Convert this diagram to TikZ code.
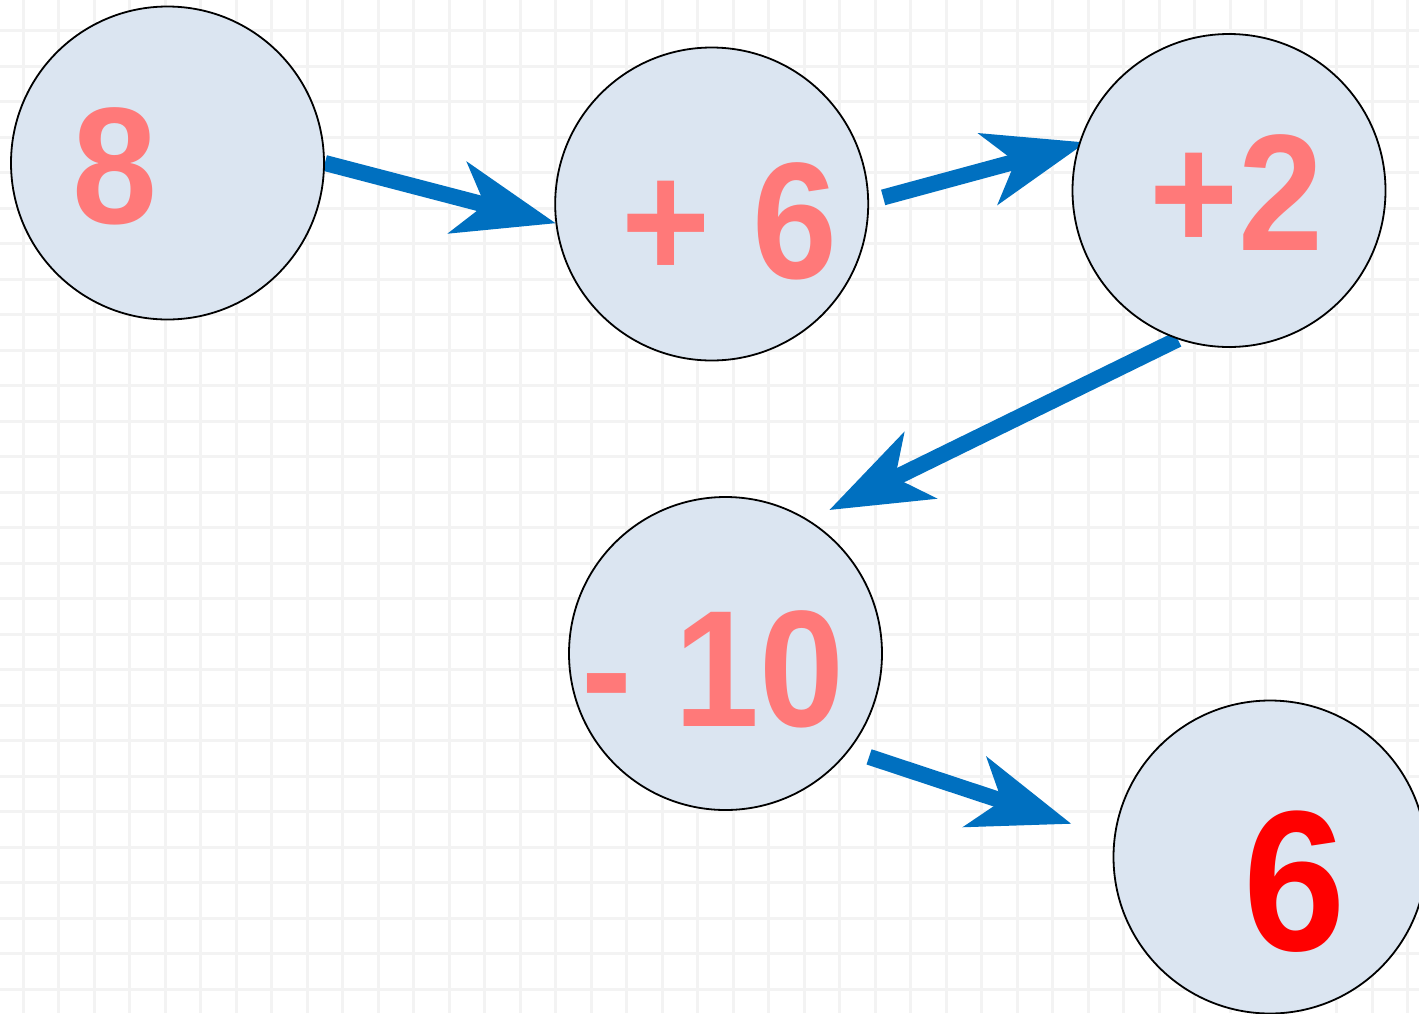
\documentclass[tikz,border=0pt]{standalone}
\usepackage{fontspec}
\usepackage{graphicx}
\setmainfont{Liberation Sans}
\usetikzlibrary{arrows.meta,backgrounds}

\definecolor{circfill}{RGB}{219,229,241}
\definecolor{numpink}{RGB}{255,121,121}
\definecolor{numred}{RGB}{255,0,0}
\definecolor{flowblue}{RGB}{0,112,192}
\definecolor{gridgray}{RGB}{243,243,243}

\newcommand{\narrownum}[1]{\scalebox{0.92}[1]{#1}}

\tikzset{
  numcirc/.style={circle, draw=black, line width=0.9pt, fill=circfill, minimum size=156.5pt, inner sep=0pt},
  numtext/.style={font=\fontsize{83}{83}\selectfont\bfseries, text=numpink, inner sep=0pt},
  flow/.style={draw=flowblue, line width=8pt, -{Stealth[length=51pt,width=37.5pt,inset=14.5pt,line width=0pt]}},
  gridline/.style={draw=gridgray, line width=1.5pt}
}

\begin{document}
\begin{tikzpicture}[x=0.5pt,y=-0.5pt]
  \useasboundingbox (0,0) rectangle (1419,1013);
  \begin{scope}[on background layer]
    \fill[white] (0,0) rectangle (1419,1013);
    \foreach \gx in {23,58.5,...,1419} \draw[gridline] (\gx,0) -- (\gx,1013);
    \foreach \gy in {30.5,66,...,1013} \draw[gridline] (0,\gy) -- (1419,\gy);
  \end{scope}

  \node[numcirc, label={[numtext, shift={(-52.5,3)}]center:\narrownum{8}}] (start) at (167.5,163) {};
  \node[numcirc, label={[numtext, shift={(18,17.5)}]center:\narrownum{+ 6}}] (plussix) at (711.7,204) {};
  \node[numcirc, label={[numtext, shift={(7.5,2.5)}]center:\narrownum{+2}}] (plustwo) at (1229,190.5) {};
  \node[numcirc, label={[numtext, shift={(-12.5,16)}]center:\narrownum{- 10}}] (minusten) at (725.5,653.5) {};
  \node[numcirc, label={[numtext, text=numred, font=\fontsize{100}{100}\selectfont\bfseries, shift={(25,24.5)}]center:\narrownum{6}}] (result) at (1270,857) {};

  \begin{scope}[on background layer]
    \draw[flow] (start.0) -- (plussix.187);
    \draw[flow, shorten <=7.3pt, shorten >=-3.75pt] (plussix.1) -- (plustwo.163);
    \draw[flow, shorten >=11.5pt] (plustwo.251) -- (minusten.58);
    \draw[flow, shorten <=10.3pt, shorten >=22.5pt] (minusten.322) -- (result.173);
  \end{scope}
\end{tikzpicture}
\end{document}
